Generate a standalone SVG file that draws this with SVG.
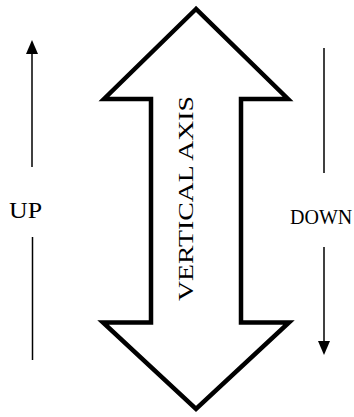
<svg xmlns="http://www.w3.org/2000/svg" width="354" height="417" viewBox="0 0 354 417">
<style>
.lbl{font-family:"Liberation Serif","Times New Roman",serif;fill:#000}
.ln{stroke:#000;stroke-width:1.5;fill:none}
.head{fill:#000;stroke:none}
</style>
<rect width="354" height="417" fill="#fff"/>
<g id="axis">
<polygon points="196,9 104,99 151,99 151,322.5 103,322.5 196,409 289,322.5 241,322.5 241,99 288,99" fill="#fff" stroke="#000" stroke-width="4.5" stroke-linejoin="miter"/>
<text class="lbl" font-size="21" transform="translate(193,301) rotate(-90)" textLength="205" lengthAdjust="spacingAndGlyphs">VERTICAL AXIS</text>
</g>
<g id="up">
<text class="lbl" x="9" y="218" font-size="23" textLength="33" lengthAdjust="spacingAndGlyphs">UP</text>
</g>
<g id="down">
<text class="lbl" x="290" y="224" font-size="20">DOWN</text>
</g>
<g id="connectors">
<line class="ln" x1="32" y1="52" x2="32" y2="167"/>
<polygon class="head" points="32,40 26,54 38,54"/>
<line class="ln" x1="32.5" y1="237" x2="32.5" y2="360"/>
<line class="ln" x1="324" y1="48" x2="324" y2="173"/>
<line class="ln" x1="324" y1="247" x2="324" y2="344"/>
<polygon class="head" points="324,355 318,341 330,341"/>
</g>
</svg>
